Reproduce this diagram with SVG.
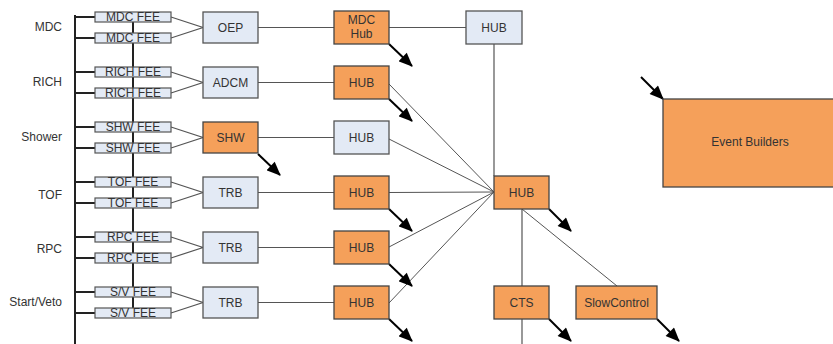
<svg xmlns="http://www.w3.org/2000/svg" width="833" height="344" viewBox="0 0 833 344">
<style>
text{font-family:"Liberation Sans",Arial,sans-serif;fill:#333;}
.lbl{font-size:12px;text-anchor:end;}
.bt{font-size:12px;text-anchor:middle;}
.ft{font-size:12px;text-anchor:middle;}
.lb{fill:#E3EAF5;stroke:#555;stroke-width:1.3;}
.or{fill:#F5A05A;stroke:#444;stroke-width:1.3;}
.fee{fill:#E3EAF5;stroke:#555;stroke-width:1.2;}
.c{stroke:#555;stroke-width:1.2;fill:none;}
.t{stroke:#555;stroke-width:1;fill:none;}
.bus{stroke:#222;stroke-width:2;fill:none;}
.ar{stroke:#000;stroke-width:2;fill:none;marker-end:url(#ah);}
</style>
<defs>
<marker id="ah" viewBox="0 0 14 12" refX="13" refY="6" markerWidth="15" markerHeight="12" orient="auto" markerUnits="userSpaceOnUse">
<path d="M0,0 L14,6 L0,12 z" fill="#000"/>
</marker>
</defs>
<g id="connectors">
<line class="bus" x1="75" y1="15" x2="75" y2="344"/>
<line class="bus" x1="133" y1="22" x2="133" y2="308"/>
<path class="bus" d="M75,17 H95 M75,38 H95 M75,72 H95 M75,93 H95 M75,127 H95 M75,148 H95 M75,182 H95 M75,203 H95 M75,237 H95 M75,258 H95 M75,292 H95 M75,313 H95"/>
<path class="c" d="M171,17 L203,27.5 L171,38 M171,72 L203,82.5 L171,93 M171,127 L203,137.5 L171,148 M171,182 L203,192.5 L171,203 M171,237 L203,247.5 L171,258 M171,292 L203,302.5 L171,313"/>
<path class="c" d="M258,27.5 H334 M258,82.5 H334 M258,137.5 H334 M258,192.5 H334 M258,247.5 H334 M258,302.5 H334"/>
<path class="c" d="M389,27.5 H466 M494,44 V176"/>
<path class="t" d="M389,84 L494,192 M389,139 L494,192 M389,192.5 L494,192 M389,247 L494,192 M389,303 L494,192"/>
<path class="c" d="M522,209 V286 M522,319 V344"/>
<path class="t" d="M522,209 L617,286"/>
<line class="ar" x1="389" y1="44" x2="412" y2="66"/>
<line class="ar" x1="389" y1="99" x2="412" y2="121"/>
<line class="ar" x1="258" y1="154" x2="280" y2="175"/>
<line class="ar" x1="389" y1="209" x2="412" y2="231"/>
<line class="ar" x1="389" y1="264" x2="412" y2="286"/>
<line class="ar" x1="389" y1="319" x2="412" y2="341"/>
<line class="ar" x1="549" y1="209" x2="571" y2="231"/>
<line class="ar" x1="549" y1="319" x2="571" y2="341"/>
<line class="ar" x1="657" y1="319" x2="679" y2="341"/>
<line class="ar" x1="641" y1="77" x2="663" y2="99"/>
</g>
<g id="labels">
<text class="lbl" x="62" y="31">MDC</text>
<text class="lbl" x="62" y="86">RICH</text>
<text class="lbl" x="62" y="141">Shower</text>
<text class="lbl" x="62" y="199">TOF</text>
<text class="lbl" x="62" y="253">RPC</text>
<text class="lbl" x="62" y="306">Start/Veto</text>
</g>
<g id="mdc-fee-1"><rect class="fee" x="95" y="12" width="76" height="10"/><text class="ft" x="133" y="21.3">MDC FEE</text></g>
<g id="mdc-fee-2"><rect class="fee" x="95" y="33" width="76" height="10"/><text class="ft" x="133" y="42.3">MDC FEE</text></g>
<g id="rich-fee-1"><rect class="fee" x="95" y="67" width="76" height="10"/><text class="ft" x="133" y="76.3">RICH FEE</text></g>
<g id="rich-fee-2"><rect class="fee" x="95" y="88" width="76" height="10"/><text class="ft" x="133" y="97.3">RICH FEE</text></g>
<g id="shw-fee-1"><rect class="fee" x="95" y="122" width="76" height="10"/><text class="ft" x="133" y="131.3">SHW FEE</text></g>
<g id="shw-fee-2"><rect class="fee" x="95" y="143" width="76" height="10"/><text class="ft" x="133" y="152.3">SHW FEE</text></g>
<g id="tof-fee-1"><rect class="fee" x="95" y="177" width="76" height="10"/><text class="ft" x="133" y="186.3">TOF FEE</text></g>
<g id="tof-fee-2"><rect class="fee" x="95" y="198" width="76" height="10"/><text class="ft" x="133" y="207.3">TOF FEE</text></g>
<g id="rpc-fee-1"><rect class="fee" x="95" y="232" width="76" height="10"/><text class="ft" x="133" y="241.3">RPC FEE</text></g>
<g id="rpc-fee-2"><rect class="fee" x="95" y="253" width="76" height="10"/><text class="ft" x="133" y="262.3">RPC FEE</text></g>
<g id="sv-fee-1"><rect class="fee" x="95" y="287" width="76" height="10"/><text class="ft" x="133" y="296.3">S/V FEE</text></g>
<g id="sv-fee-2"><rect class="fee" x="95" y="308" width="76" height="10"/><text class="ft" x="133" y="317.3">S/V FEE</text></g>
<g id="oep"><rect class="lb" x="203" y="12" width="55" height="31"/><text class="bt" x="230.5" y="32">OEP</text></g>
<g id="adcm"><rect class="lb" x="203" y="67" width="55" height="31"/><text class="bt" x="230.5" y="87">ADCM</text></g>
<g id="shw"><rect class="or" x="203" y="122" width="55" height="31"/><text class="bt" x="230.5" y="142">SHW</text></g>
<g id="trb-tof"><rect class="lb" x="203" y="177" width="55" height="31"/><text class="bt" x="230.5" y="197">TRB</text></g>
<g id="trb-rpc"><rect class="lb" x="203" y="232" width="55" height="31"/><text class="bt" x="230.5" y="252">TRB</text></g>
<g id="trb-sv"><rect class="lb" x="203" y="287" width="55" height="31"/><text class="bt" x="230.5" y="307">TRB</text></g>
<g id="mdc-hub"><rect class="or" x="334" y="11" width="55" height="33"/><text class="bt" x="361.5" y="24">MDC</text><text class="bt" x="361.5" y="38">Hub</text></g>
<g id="hub-rich"><rect class="or" x="334" y="66" width="55" height="33"/><text class="bt" x="361.5" y="86.5">HUB</text></g>
<g id="hub-shw"><rect class="lb" x="334" y="121" width="55" height="33"/><text class="bt" x="361.5" y="141.5">HUB</text></g>
<g id="hub-tof"><rect class="or" x="334" y="176" width="55" height="33"/><text class="bt" x="361.5" y="196.5">HUB</text></g>
<g id="hub-rpc"><rect class="or" x="334" y="231" width="55" height="33"/><text class="bt" x="361.5" y="251.5">HUB</text></g>
<g id="hub-sv"><rect class="or" x="334" y="286" width="55" height="33"/><text class="bt" x="361.5" y="306.5">HUB</text></g>
<g id="hub-top"><rect class="lb" x="466" y="11" width="56" height="33"/><text class="bt" x="494" y="31.5">HUB</text></g>
<g id="hub-central"><rect class="or" x="494" y="176" width="55" height="33"/><text class="bt" x="521.5" y="196.5">HUB</text></g>
<g id="cts"><rect class="or" x="494" y="286" width="55" height="33"/><text class="bt" x="521.5" y="306.5">CTS</text></g>
<g id="slowcontrol"><rect class="or" x="576" y="286" width="81" height="33"/><text class="bt" x="616.5" y="306.5">SlowControl</text></g>
<g id="event-builders"><rect class="or" x="663" y="99" width="175" height="88"/><text class="bt" x="750" y="146">Event Builders</text></g>
</svg>
